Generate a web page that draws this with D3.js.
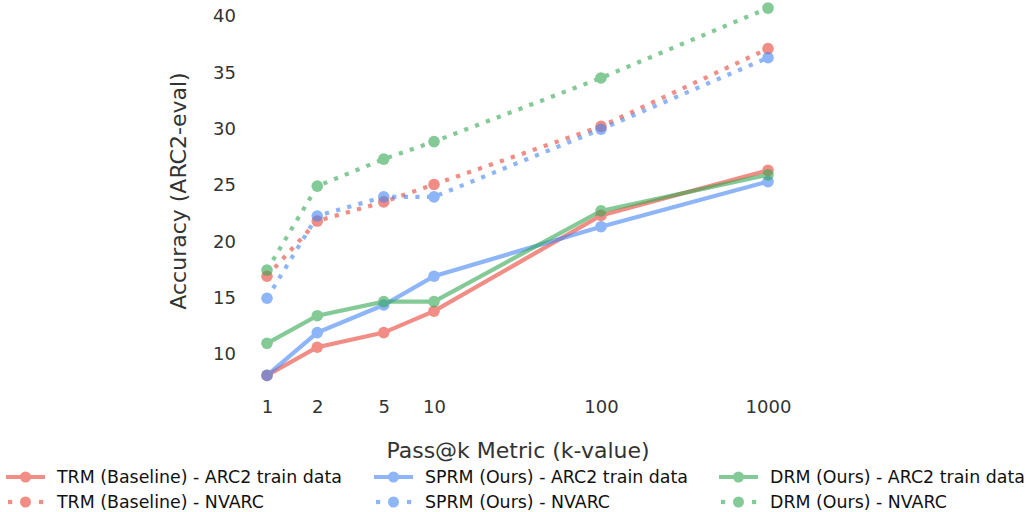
<!DOCTYPE html>
<html>
<head>
<meta charset="utf-8">
<script src="https://cdn.jsdelivr.net/npm/d3@7"></script>
<style>
  body { margin: 0; background: #fff; }
  svg text { font-family: "DejaVu Sans", sans-serif; }
</style>
</head>
<body>
<div id="chart"></div>
<script>
// pass@k values on the x axis
var kValues = [1, 2, 5, 10, 100, 1000];
var yTicks = [10, 15, 20, 25, 30, 35, 40];

var trmTrain  = [8.1, 10.6, 11.9, 13.8, 22.3, 26.3];
var sprmTrain = [8.1, 11.9, 14.35, 16.9, 21.3, 25.3];
var drmTrain  = [10.95, 13.4, 14.65, 14.65, 22.7, 25.9];
var trmNv     = [16.9, 21.8, 23.5, 25.05, 30.2, 37.1];
var sprmNv    = [14.95, 22.25, 23.95, 23.95, 29.95, 36.3];
var drmNv     = [17.45, 24.9, 27.3, 28.85, 34.5, 40.7];

var seriesNames = [
  "TRM (Baseline) - ARC2 train data", "TRM (Baseline) - NVARC",
  "SPRM (Ours) - ARC2 train data", "SPRM (Ours) - NVARC",
  "DRM (Ours) - ARC2 train data", "DRM (Ours) - NVARC"
];

var red = "#EA4335", blue = "#4285F4", green = "#34A853";
var series = [
  { name: seriesNames[0], values: trmTrain,  color: red,   dotted: false },
  { name: seriesNames[1], values: trmNv,     color: red,   dotted: true },
  { name: seriesNames[2], values: sprmTrain, color: blue,  dotted: false },
  { name: seriesNames[3], values: sprmNv,    color: blue,  dotted: true },
  { name: seriesNames[4], values: drmTrain,  color: green, dotted: false },
  { name: seriesNames[5], values: drmNv,     color: green, dotted: true }
];

var W = 1029, H = 512;
var svg = d3.select("#chart").append("svg")
    .attr("width", W).attr("height", H);

var x = d3.scaleLog().domain([1, 1000]).range([267, 768]);
var y = d3.scaleLinear().domain([10, 40]).range([354, 16]);

// axes (no spines, no tick marks)
var gx = svg.append("g")
    .attr("transform", "translate(0,397)")
    .call(d3.axisBottom(x).tickValues(kValues).tickFormat(d3.format("d")).tickSize(0));
gx.select(".domain").remove();
gx.selectAll("text").attr("font-size", 18).attr("fill", "#333")
    .attr("font-family", "DejaVu Sans");

var gy = svg.append("g")
    .attr("transform", "translate(239,0)")
    .call(d3.axisLeft(y).tickValues(yTicks).tickSize(0));
gy.select(".domain").remove();
gy.selectAll("text").attr("font-size", 18).attr("fill", "#333")
    .attr("font-family", "DejaVu Sans");

svg.append("text")
    .attr("x", 518).attr("y", 458)
    .attr("text-anchor", "middle")
    .attr("font-size", 22).attr("fill", "#333")
    .text("Pass@k Metric (k-value)");

svg.append("text")
    .attr("transform", "translate(186,191) rotate(-90)")
    .attr("text-anchor", "middle")
    .attr("font-size", 22).attr("fill", "#333")
    .text("Accuracy (ARC2-eval)");

var line = d3.line()
    .x(function (d, i) { return x(kValues[i]); })
    .y(function (d) { return y(d); });

series.forEach(function (s) {
  var g = svg.append("g").attr("opacity", 0.6);
  g.append("path")
      .datum(s.values)
      .attr("fill", "none")
      .attr("stroke", s.color)
      .attr("stroke-width", 4.2)
      .attr("stroke-dasharray", s.dotted ? "4.2,7.4" : null)
      .attr("d", line);
  g.selectAll("circle").data(s.values).enter().append("circle")
      .attr("cx", function (d, i) { return x(kValues[i]); })
      .attr("cy", function (d) { return y(d); })
      .attr("r", 5.8)
      .attr("fill", s.color);
});

// legend: 3 columns x 2 rows
var legCols = [5, 373, 718];
var legRows = [477, 502];
series.forEach(function (s, i) {
  var cx = legCols[Math.floor(i / 2)], cy = legRows[i % 2];
  var g = svg.append("g").attr("transform", "translate(" + cx + "," + cy + ")");
  var hg = g.append("g").attr("opacity", 0.6);
  if (s.dotted) {
    hg.append("rect").attr("x", 3).attr("y", -2.1).attr("width", 4.2).attr("height", 4.2).attr("fill", s.color);
    hg.append("rect").attr("x", 34).attr("y", -2.1).attr("width", 4.2).attr("height", 4.2).attr("fill", s.color);
    hg.append("rect").attr("x", 17).attr("y", -2.1).attr("width", 6).attr("height", 4.2).attr("fill", s.color);
  } else {
    hg.append("line").attr("x1", 1).attr("x2", 40).attr("y1", 0).attr("y2", 0)
        .attr("stroke", s.color).attr("stroke-width", 4.2);
  }
  hg.append("circle").attr("cx", 20.5).attr("cy", 0).attr("r", 5.5).attr("fill", s.color);
  g.append("text").attr("x", 52).attr("y", 0).attr("dy", "0.35em")
      .attr("font-size", 17.4).attr("fill", "#111")
      .text(s.name);
});
</script>
</body>
</html>
